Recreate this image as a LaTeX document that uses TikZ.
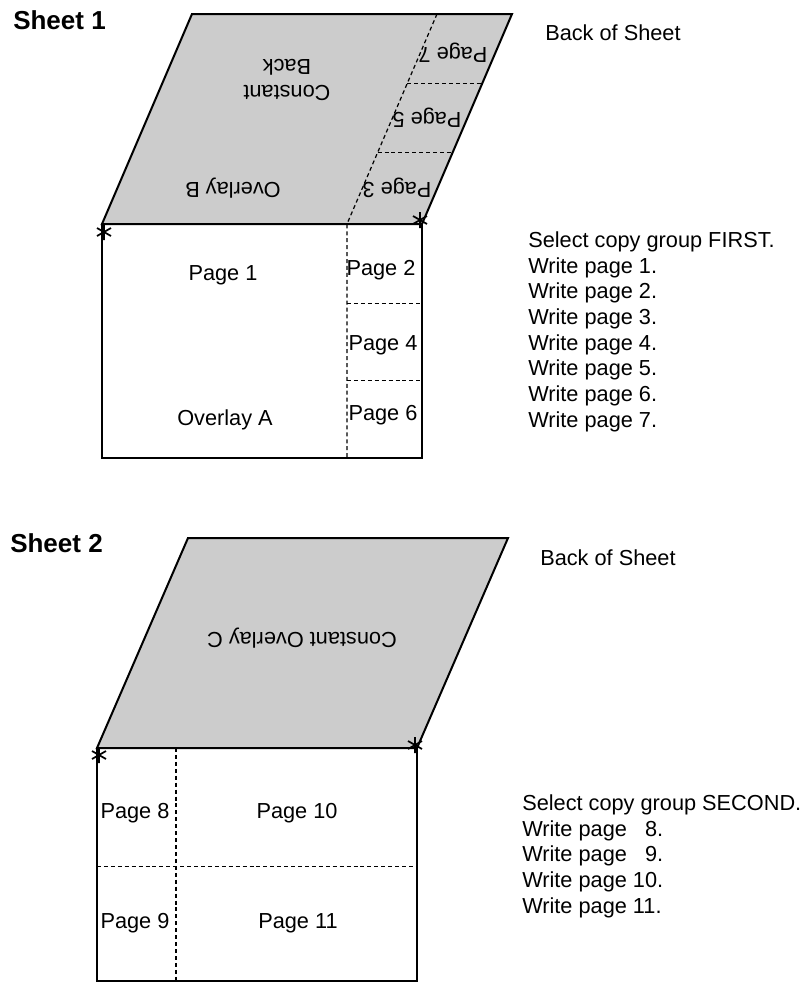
\documentclass[tikz,border=0pt]{standalone}
\usepackage{fontspec}
\setmainfont{Liberation Sans}
\usetikzlibrary{calc}
\definecolor{backgray}{RGB}{204,204,204}
\tikzset{
    sheetline/.style={
        line width=1.5pt,
        black,
        line join=miter
    },
    foldline/.style={
        line width=0.9pt,
        black,
        dash pattern=on 3pt off 2.2pt
    },
    backface/.style={sheetline, fill=backgray},
    pagetext/.style={font=\fontsize{16.3pt}{19.5pt}\selectfont, inner sep=0pt},
    flipped/.style={pagetext, rotate=180, align=center},
    sheettitle/.style={font=\fontsize{19.5pt}{23pt}\selectfont\bfseries, anchor=west, inner sep=0pt},
    steptext/.style={pagetext, anchor=west, text height=11.5pt, text depth=3.5pt},
    cornerstar/.pic={
        \draw[line width=1.3pt] (0,-8) -- (0,8) (-7,-4) -- (7,4) (-7,4) -- (7,-4);
    }
}

\begin{document}
\begin{tikzpicture}[x=0.75pt, y=-0.75pt]
    \useasboundingbox (0,0) rectangle (806,983);
    % sheet 1
    \path
    (192,14) coordinate (a1) (512,14) coordinate (a2) (422,224) coordinate (a3) (102,224) coordinate (a4)
    (422,458) coordinate (a5) (102,458) coordinate (a6)
    (437,14) coordinate (f1) (347,224) coordinate (f2) (347,458) coordinate (f3);
    \draw[backface] (a1) -- (a2) -- (a3) -- (a4) -- cycle;
    \draw[sheetline] (a4) -- (a6) -- (a5) -- (a3);
    \draw[foldline] (f1) -- (f2) -- (f3);
    \draw[foldline] ($(f1)!0.33!(f2)$) -- ($(a2)!0.33!(a3)$);
    \draw[foldline] ($(f1)!0.66!(f2)$) -- ($(a2)!0.66!(a3)$);
    \draw[foldline] ($(f2)!0.34!(f3)$) -- ($(a3)!0.34!(a5)$);
    \draw[foldline] ($(f2)!0.67!(f3)$) -- ($(a3)!0.67!(a5)$);
    \pic at (104,232) {cornerstar};
    \pic at (420,220) {cornerstar};

    \node[flipped] (p7) at (453,53) {Page 7};
    \node[flipped] (p5) at (427,118) {Page 5};
    \node[flipped] (p3) at (397,188) {Page 3};
    \node[flipped] (cback) at (287,80) {Constant\\Back};
    \node[flipped] (ovb) at (233,188) {Overlay B};
    \node[pagetext] (p1) at (223,275) {Page 1};
    \node[pagetext] (p2) at (381,270) {Page 2};
    \node[pagetext] (p4) at (383,345) {Page 4};
    \node[pagetext] (p6) at (383,415) {Page 6};
    \node[pagetext] (ova) at (225,420) {Overlay A};

    \node[sheettitle] (sheet1) at (13,20) {Sheet 1};
    \node[pagetext, anchor=west] (back1) at (545,33) {Back of Sheet};
    \foreach \t [count=\i from 0] in {Select copy group FIRST., Write page 1., Write page 2.,
        Write page 3., Write page 4., Write page 5., Write page 6., Write page 7.}
        \node[steptext] (first\i) at (528,242+25.7*\i) {\t};

    % sheet 2
    \path
    (188,538) coordinate (b1) (508,538) coordinate (b2) (417,748) coordinate (b3) (97,748) coordinate (b4)
    (417,981) coordinate (b5) (97,981) coordinate (b6)
    (176,748) coordinate (g1) (176,981) coordinate (g2);
    \draw[backface] (b1) -- (b2) -- (b3) -- (b4) -- cycle;
    \draw[sheetline] (b4) -- (b6) -- (b5) -- (b3);
    \draw[foldline] (g1) -- (g2);
    \draw[foldline] ($(b4)!0.51!(b6)$) -- ($(b3)!0.51!(b5)$);
    \pic at (99,755) {cornerstar};
    \pic at (415,745) {cornerstar};

    \node[flipped] (covc) at (302,638) {Constant Overlay C};
    \node[pagetext] (p8) at (135,813) {Page 8};
    \node[pagetext] (p10) at (297,813) {Page 10};
    \node[pagetext] (p9) at (135,923) {Page 9};
    \node[pagetext] (p11) at (298,923) {Page 11};

    \node[sheettitle] (sheet2) at (10,543) {Sheet 2};
    \node[pagetext, anchor=west] (back2) at (540,558) {Back of Sheet};
    \foreach \t [count=\i from 0] in {Select copy group SECOND., Write page \hphantom{1}8.,
        Write page \hphantom{1}9., Write page 10., Write page 11.}
        \node[steptext] (second\i) at (522,805+25.7*\i) {\t};
\end{tikzpicture}
\end{document}
